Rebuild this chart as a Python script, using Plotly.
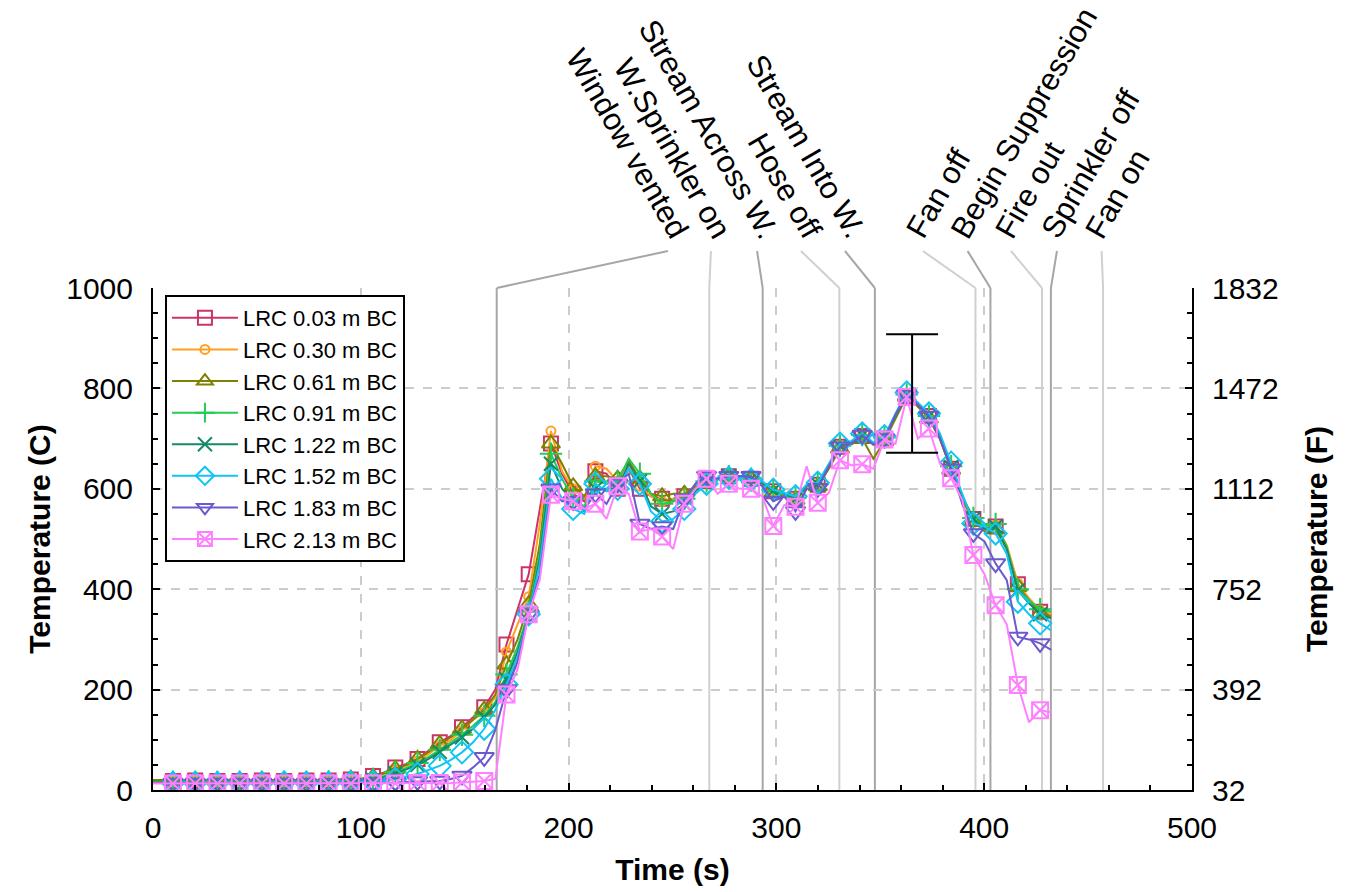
import plotly.graph_objects as go

# ---------------- data ----------------
TIME = [0.0, 9.6, 14.95, 20.3, 25.65, 31.0, 36.35, 41.7, 47.05, 52.4, 57.75, 63.1, 68.45, 73.8,
        79.15, 84.5, 89.85, 95.2, 100.55, 105.9, 111.25, 116.6, 121.95, 127.3, 132.65, 138.0,
        143.35, 148.7, 154.05, 159.4, 164.75, 170.1, 175.45, 180.8, 186.15, 191.5, 196.85, 202.2,
        207.55, 212.9, 218.25, 223.6, 228.95, 234.3, 239.65, 245.0, 250.35, 255.7, 261.05, 266.4,
        271.75, 277.1, 282.45, 287.8, 293.15, 298.5, 303.85, 309.2, 314.55, 319.9, 325.25, 330.6,
        335.95, 341.3, 346.65, 352.0, 357.35, 362.7, 368.05, 373.4, 378.75, 384.1, 389.45, 394.8,
        400.15, 405.5, 410.85, 416.2, 421.55, 426.9, 432.25]

LRC_003 = [18, 18, 18, 19, 18, 18, 19, 18, 18, 19, 18, 18, 19, 19, 18, 19, 20, 21,
           22, 28, 35, 45, 52, 62, 78, 95, 108, 125, 145, 165,
           200, 290, 360, 430, 560, 690, 630,
           590, 575, 635, 630, 600, 640, 600, 585, 580, 575, 585, 600, 615, 620, 625, 625, 620,
           612, 595, 590, 580, 605, 608, 645, 684, 690, 705, 690, 700, 745, 785, 765, 745, 700,
           640, 580, 540, 520, 525, 485, 410, 380, 355, 348]
LRC_030 = [17, 17, 17, 17, 18, 17, 17, 18, 17, 17, 18, 17, 17, 18, 17, 18, 18, 19,
           20, 25, 32, 40, 48, 58, 72, 88, 100, 118, 140, 155,
           185, 275, 330, 385, 530, 715, 635,
           600, 580, 645, 640, 615, 645, 605, 585, 575, 580, 590, 605, 615, 620, 625, 625, 620,
           612, 595, 590, 582, 605, 608, 645, 684, 690, 705, 688, 700, 745, 786, 766, 744, 702,
           642, 582, 540, 522, 528, 488, 412, 382, 358, 350]
LRC_061 = [20, 20, 19, 20, 20, 19, 20, 20, 19, 20, 20, 19, 20, 20, 19, 20, 21, 22,
           23, 26, 33, 42, 50, 62, 76, 92, 105, 122, 140, 160,
           190, 250, 300, 370, 490, 690, 650,
           605, 585, 625, 625, 620, 655, 620, 590, 585, 590, 590, 605, 615, 620, 625, 625, 620,
           610, 592, 585, 578, 600, 605, 640, 680, 688, 700, 660, 695, 740, 784, 764, 740, 698,
           638, 578, 535, 515, 520, 480, 405, 378, 352, 345]
LRC_091 = [16, 16, 16, 16, 17, 16, 16, 16, 17, 16, 16, 16, 17, 16, 16, 17, 17, 18,
           19, 22, 28, 36, 44, 54, 66, 80, 95, 110, 128, 148,
           175, 230, 285, 355, 470, 670, 620,
           580, 565, 615, 610, 615, 660, 630, 590, 570, 575, 580, 600, 615, 620, 625, 625, 620,
           612, 596, 590, 582, 608, 610, 648, 686, 692, 707, 690, 702, 748, 788, 768, 745, 705,
           645, 585, 542, 525, 530, 485, 400, 378, 360, 355]
LRC_122 = [15, 15, 15, 15, 15, 16, 15, 15, 15, 15, 16, 15, 15, 15, 15, 16, 16, 17,
           18, 20, 26, 33, 41, 50, 62, 76, 90, 105, 122, 145,
           170, 220, 275, 350, 460, 650, 600,
           575, 555, 600, 600, 600, 650, 615, 565, 550, 555, 570, 595, 612, 620, 625, 625, 620,
           612, 596, 590, 580, 606, 609, 646, 685, 691, 706, 688, 701, 746, 787, 767, 745, 703,
           643, 583, 540, 520, 525, 480, 398, 372, 350, 342]
LRC_152 = [14, 14, 14, 14, 14, 14, 15, 14, 14, 14, 14, 15, 14, 14, 14, 14, 14, 15,
           15, 16, 18, 22, 27, 32, 40, 48, 60, 75, 95, 122,
           160, 210, 265, 350, 450, 620, 580,
           560, 550, 610, 595, 600, 640, 610, 555, 535, 540, 560, 590, 610, 618, 622, 625, 618,
           615, 598, 592, 585, 608, 612, 650, 690, 695, 710, 692, 705, 750, 792, 772, 750, 710,
           652, 590, 531, 525, 511, 470, 375, 350, 332, 318]
LRC_183 = [14, 14, 14, 14, 14, 14, 14, 14, 14, 14, 14, 14, 14, 14, 14, 14, 14, 14,
           14, 14, 15, 15, 16, 17, 17, 18, 22, 28, 45, 65,
           120, 200, 255, 350, 430, 600, 575,
           575, 560, 590, 570, 610, 630, 530, 520, 525, 520, 580, 610, 625, 620, 625, 625, 625,
           605, 575, 585, 555, 600, 601, 645, 684, 690, 707, 688, 700, 748, 788, 768, 745, 700,
           640, 570, 511, 495, 451, 418, 305, 300, 292, 279]
LRC_213 = [13, 13, 13, 13, 13, 13, 13, 13, 13, 13, 13, 13, 13, 13, 13, 13, 13, 13,
           13, 13, 13, 13, 13, 14, 14, 14, 14, 15, 17, 18,
           22, 190, 240, 350, 420, 588, 580,
           575, 560, 570, 540, 605, 590, 515, 520, 505, 480, 570, 600, 620, 590, 610, 600, 600,
           585, 526, 568, 564, 645, 572, 592, 657, 647, 649, 640, 698, 690, 783, 700, 720, 650,
           621, 578, 468, 430, 368, 330, 209, 135, 159, 155]

SERIES_NAMES = ["LRC 0.03 m BC", "LRC 0.30 m BC", "LRC 0.61 m BC", "LRC 0.91 m BC",
                "LRC 1.22 m BC", "LRC 1.52 m BC", "LRC 1.83 m BC", "LRC 2.13 m BC"]
SERIES_VALUES = [LRC_003, LRC_030, LRC_061, LRC_091, LRC_122, LRC_152, LRC_183, LRC_213]

# uncertainty bar
ERR_TIME = [365.3]
ERR_TEMP = [790]
ERR_HALF = [118]

# events
EVENTS_LEFT = ["Window vented", "W.Sprinkler on", "Stream Across W.", "Hose off", "Stream Into W."]
EVENT_T_LEFT = [165.4, 267.7, 293.4, 330.3, 347.4]
EVENTS_RIGHT = ["Fan off", "Begin Suppression", "Fire out", "Sprinkler off", "Fan on"]
EVENT_T_RIGHT = [395.8, 403.0, 427.8, 432.1, 457.2]

X_TICKS = [0, 100, 200, 300, 400, 500]
Y_TICKS = [0, 200, 400, 600, 800, 1000]
F_TICKS = [32, 392, 752, 1112, 1472, 1832]

# ---------------- styles ----------------
COLORS = ["#cc3366", "#ffa020", "#808000", "#22cc55", "#148a6a", "#11c4f5", "#6a5acd", "#ff80ff"]
SYMBOLS = ["square-open", "circle-open", "triangle-up-open", "cross-thin-open",
           "x-thin-open", "diamond-open", "triangle-down-open", "square-x-open"]
SIZES = [14, 9, 16, 16, 14, 17, 17, 16]
FONT = "Liberation Sans, Arial, sans-serif"

# label anchor positions (time units along the top)
LABEL_T_LEFT = [247.8, 268.5, 290.7, 311.8, 333.0]
LABEL_T_RIGHT = [370.5, 392.0, 412.9, 435.0, 456.5]
CONN_COLORS = ["#a6a6a6", "#d0d0d0"]

fig = go.Figure()

for name, vals, col, sym, sz in zip(SERIES_NAMES, SERIES_VALUES, COLORS, SYMBOLS, SIZES):
    fig.add_trace(go.Scatter(x=TIME, y=vals, mode="lines", line=dict(color=col, width=2),
                             showlegend=False, hoverinfo="skip"))
    fig.add_trace(go.Scatter(x=TIME[1::2], y=vals[1::2], mode="markers",
                             marker=dict(symbol=sym, size=sz, color=col, line=dict(color=col, width=2)),
                             showlegend=False, hoverinfo="skip"))
    fig.add_trace(go.Scatter(x=[None], y=[None], mode="lines+markers", name=name,
                             line=dict(color=col, width=2),
                             marker=dict(symbol=sym, size=min(sz, 14), color=col, line=dict(color=col, width=2)),
                             showlegend=True))

fig.add_trace(go.Scatter(x=ERR_TIME, y=ERR_TEMP, mode="markers",
                         marker=dict(size=1, color="rgba(0,0,0,0)"),
                         error_y=dict(type="data", array=ERR_HALF, color="black", thickness=2, width=26),
                         showlegend=False, hoverinfo="skip"))
fig.add_trace(go.Scatter(x=[None], y=[None], yaxis="y2", showlegend=False, hoverinfo="skip"))

# event lines, connectors and labels
Y_LAB = 1.0737
shapes = []
annotations = []
all_events = list(zip(EVENTS_LEFT + EVENTS_RIGHT, EVENT_T_LEFT + EVENT_T_RIGHT,
                      LABEL_T_LEFT + LABEL_T_RIGHT))
for j, (lab, te, tl) in enumerate(all_events):
    c = CONN_COLORS[j % 2]
    shapes.append(dict(type="line", xref="x", yref="paper", x0=te, x1=te, y0=0, y1=1,
                       line=dict(color=c, width=2), layer="below"))
    shapes.append(dict(type="line", xref="x", yref="paper", x0=te, x1=tl, y0=1, y1=Y_LAB,
                       line=dict(color=c, width=2), layer="below"))
    left = j < len(EVENTS_LEFT)
    annotations.append(dict(x=tl, y=Y_LAB, xref="x", yref="paper", text=lab, showarrow=False,
                            textangle=60 if left else -60,
                            xanchor="right" if left else "left", yanchor="bottom",
                            xshift=30 if left else -26, yshift=4,
                            font=dict(family=FONT, size=31, color="black")))

axis_common = dict(ticks="inside", ticklen=7, tickwidth=2, tickcolor="black",
                   showline=True, linecolor="black", linewidth=2, zeroline=False,
                   tickfont=dict(family=FONT, size=30, color="black"))

fig.update_layout(
    width=1350, height=892, autosize=False,
    margin=dict(l=153, r=158, t=288, b=102),
    paper_bgcolor="white", plot_bgcolor="white",
    font=dict(family=FONT, color="black"),
    shapes=shapes, annotations=annotations,
    showlegend=True,
    legend=dict(x=0.0115, y=0.986, xanchor="left", yanchor="top",
                bordercolor="black", borderwidth=2, bgcolor="white",
                font=dict(family=FONT, size=22, color="black"),
                itemwidth=66, tracegroupgap=0),
    xaxis=dict(range=[0, 500], tickvals=X_TICKS, showgrid=True, gridcolor="#cccccc",
               griddash="dash", gridwidth=1.5, ticklabelstandoff=10,
               minor=dict(dtick=20, ticks="inside", ticklen=5, tickwidth=1.5, tickcolor="black", showgrid=False),
               title=dict(text="<b>Time (s)</b>", font=dict(family=FONT, size=30), standoff=16),
               **axis_common),
    yaxis=dict(range=[0, 1000], tickvals=Y_TICKS, showgrid=True, gridcolor="#cccccc",
               griddash="dash", gridwidth=1.5, ticklabelstandoff=12,
               minor=dict(dtick=50, ticks="inside", ticklen=5, tickwidth=1.5, tickcolor="black", showgrid=False),
               title=dict(text="<b>Temperature (C)</b>", font=dict(family=FONT, size=30), standoff=7),
               **axis_common),
    yaxis2=dict(range=[32, 1832], tickvals=F_TICKS, overlaying="y", side="right", showgrid=False,
                ticklabelstandoff=12,
                minor=dict(tickmode="linear", tick0=32, dtick=90, ticks="inside", ticklen=5, tickwidth=1.5,
                           tickcolor="black", showgrid=False),
                title=dict(text="<b>Temperature (F)</b>", font=dict(family=FONT, size=30), standoff=28),
                **axis_common),
)

fig.write_html("out.html")
